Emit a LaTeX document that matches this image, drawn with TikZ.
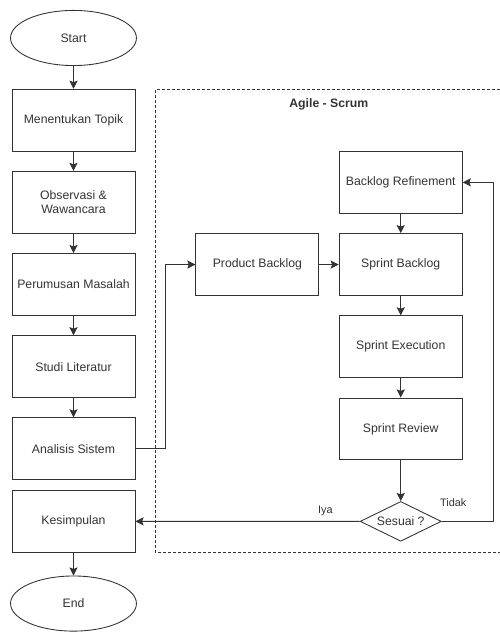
\documentclass[tikz,border=0pt]{standalone}
\usepackage{fontspec}
\setmainfont{Liberation Sans}
\usepackage{tikz}
\usetikzlibrary{shapes.geometric, arrows.meta}

\begin{document}
\begin{tikzpicture}[node distance=2.31cm, font=\fontsize{9.8pt}{11.5pt}\selectfont, >={Stealth[length=6.5pt, width=6.5pt, inset=1.2pt]}, color=black!80, line width=0.7pt,
  box/.style={rectangle, draw, minimum width=3.46cm, minimum height=1.74cm, align=center},
  term/.style={ellipse, draw, minimum width=3.54cm, minimum height=1.55cm},
  cek/.style={diamond, draw, aspect=2, inner sep=0pt, minimum width=2.28cm, minimum height=1.12cm},
  ket/.style={font=\fontsize{8.7pt}{10pt}\selectfont}]

\useasboundingbox (-2.066,1.068) rectangle (11.99,-16.70);

% alur utama
\node (start) [term] {Start};
\node (topik) [box, below of=start] {Menentukan Topik};
\node (obs) [box, below of=topik] {Observasi \&\\Wawancara};
\node (rumus) [box, below of=obs] {Perumusan Masalah};
\node (studi) [box, below of=rumus] {Studi Literatur};
\node (analisis) [box, below of=studi] {Analisis Sistem};
\node (simpul) [box, below of=analisis, yshift=0.27cm] {Kesimpulan};
\node (end) [term, below of=simpul] {End};

% bagian agile - scrum
\draw [dash pattern=on 2.4pt off 1.6pt] (11.99,-1.46) -- (2.29,-1.46) -- (2.29,-14.45) -- (11.99,-14.45);
\node (judul) at (7.18,-1.855) {\bfseries Agile - Scrum};

\node (product) [box] at (5.17,-6.37) {Product Backlog};
\node (sprint) [box, right of=product, xshift=1.72cm] {Sprint Backlog};
\node (refine) [box, above of=sprint] {Backlog Refinement};
\node (exec) [box, below of=sprint] {Sprint Execution};
\node (review) [box, below of=exec] {Sprint Review};
\node (sesuai) [cek, below of=review, yshift=-0.29cm] {Sesuai ?};
\coordinate (balik) at (11.82,0 |- refine.east);

\draw [->] (start) -- (topik);
\draw [->] (topik) -- (obs);
\draw [->] (obs) -- (rumus);
\draw [->] (rumus) -- (studi);
\draw [->] (studi) -- (analisis);
\draw [->] (simpul) -- (end);

\draw [->] (analisis.east) -- ++(0.84,0) |- (product.west);
\draw [->] (product) -- (sprint);
\draw [->] (refine) -- (sprint);
\draw [->] (sprint) -- (exec);
\draw [->] (exec) -- (review);
\draw [->] (review) -- (sesuai);
\draw [->] (sesuai.west) -- node[ket, pos=0.153, above=1pt] {Iya} (simpul.east);
\draw [->] (sesuai.east) -| node[ket, pos=0.11, above=8pt] {Tidak} (balik) -- (refine.east);

\end{tikzpicture}
\end{document}
